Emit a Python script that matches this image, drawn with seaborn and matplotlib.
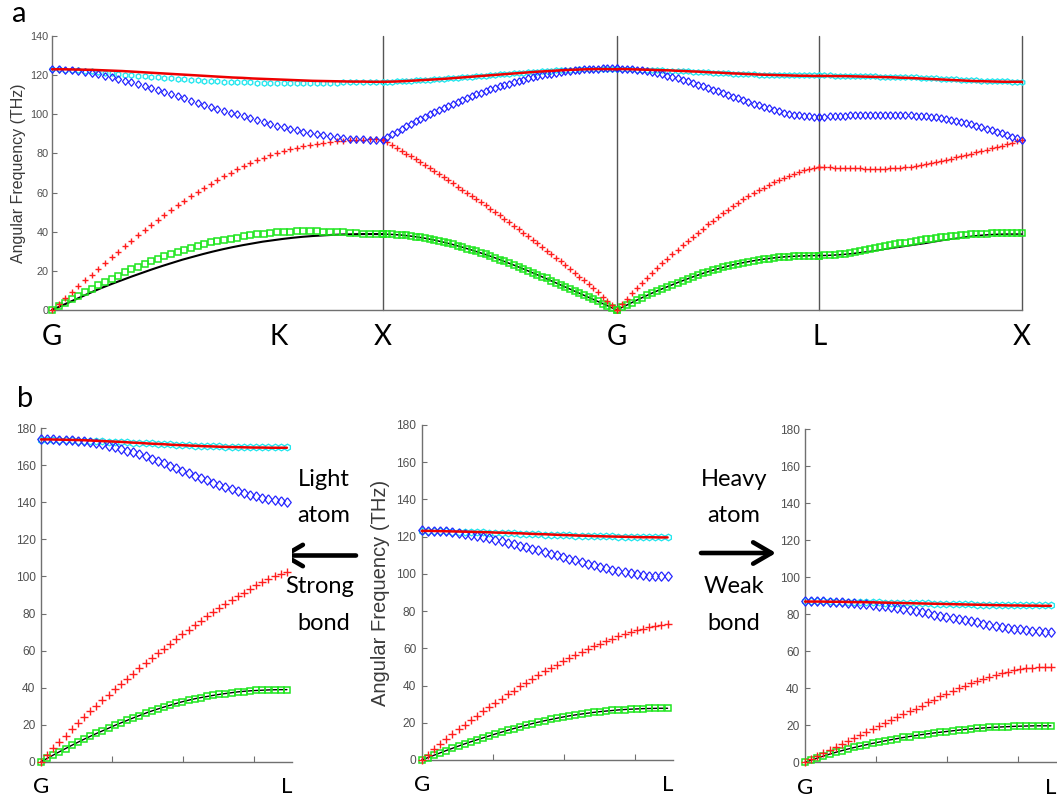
import numpy as np
import matplotlib
matplotlib.use("Agg")
import matplotlib.pyplot as plt
import seaborn as sns

# ---------------------------------------------------------------- data ----
# panel a: path segments G-X (via K), X-G, G-L, L-X (reciprocal-space length)
seg_lengths = [1.414, 1.0, 0.866, 0.866]
k_position = 0.970
top_tick_labels = ["G", "K", "X", "G", "L", "X"]
top_yticks = [0, 20, 40, 60, 80, 100, 120, 140]
bottom_yticks = [0, 20, 40, 60, 80, 100, 120, 140, 160, 180]
bottom_minor_ticks = [0.25, 0.5, 0.75]

# ===== solid-line branches (black = lowest TA, red = highest optical)
GX_black = [0, 2.3, 4.6, 6.9, 9.2, 11.4, 13.4, 15.3, 17.2, 19.0, 20.8, 22.5, 24.1, 25.7, 27.1, 28.5, 29.8,
            31.0, 32.1, 33.1, 34.0, 34.9, 35.6, 36.3, 36.9, 37.4, 37.8, 38.1, 38.4, 38.6, 38.7, 38.8, 38.8, 38.8]
GX_redline = [123.0, 123.0, 122.9, 122.8, 122.7, 122.5, 122.3, 122.1, 121.8, 121.5, 121.2, 120.9, 120.6, 120.3,
              120.0, 119.7, 119.4, 119.1, 118.8, 118.6, 118.3, 118.1, 117.9, 117.7, 117.5, 117.3, 117.1, 117.0,
              116.9, 116.8, 116.7, 116.7, 116.6, 116.6]
XG_black = [38.8, 38.6, 38.2, 37.6, 36.8, 35.8, 34.6, 33.3, 31.8, 30.2, 28.5, 26.7, 24.7, 22.7, 20.6, 18.4,
            16.2, 13.9, 11.6, 9.3, 7.0, 4.7, 2.4, 0.0]
XG_redline = [116.6, 116.7, 116.9, 117.2, 117.5, 117.8, 118.1, 118.5, 118.9, 119.3, 119.7, 120.1, 120.5, 120.9,
              121.3, 121.7, 122.0, 122.3, 122.6, 122.8, 123.0, 123.1, 123.1, 123.0]
GL_black = [0, 1.7, 3.4, 5.1, 6.7, 8.3, 9.8, 11.2, 12.6, 14.0, 15.3, 16.6, 17.8, 19.0, 20.1, 21.1, 22.0, 22.9,
            23.7, 24.4, 25.0, 25.6, 26.1, 26.5, 26.9, 27.2, 27.4, 27.6, 27.7, 27.8, 27.8]
GL_redline = [123.1, 123.1, 123.0, 122.9, 122.8, 122.7, 122.6, 122.5, 122.4, 122.2, 122.1, 121.9, 121.8, 121.6,
              121.4, 121.3, 121.1, 120.9, 120.8, 120.6, 120.5, 120.3, 120.2, 120.1, 120.0, 119.9, 119.8, 119.7,
              119.7, 119.6, 119.6]
LX_black = [27.8, 27.9, 28.1, 28.4, 28.8, 29.3, 29.8, 30.4, 31.0, 31.6, 32.2, 32.8, 33.4, 34.0, 34.7, 35.4,
            36.1, 36.7, 37.3, 37.8, 38.2, 38.5, 38.7, 38.8, 38.8, 38.8]
LX_redline = [119.6, 119.6, 119.5, 119.5, 119.4, 119.3, 119.2, 119.1, 119.0, 118.9, 118.7, 118.6, 118.4, 118.2,
              118.0, 117.8, 117.6, 117.4, 117.2, 117.0, 116.9, 116.8, 116.7, 116.6, 116.6, 116.6]
light_black = [0, 2.4, 4.8, 7.1, 9.4, 11.6, 13.7, 15.7, 17.6, 19.6, 21.4, 23.2, 24.9, 26.6, 28.1, 29.5, 30.8,
               32.1, 33.2, 34.2, 35.0, 35.8, 36.5, 37.1, 37.7, 38.1, 38.4, 38.6, 38.8, 38.9, 38.9]
light_redline = [174.0, 174.0, 173.9, 173.8, 173.7, 173.6, 173.4, 173.2, 173.0, 172.8, 172.6, 172.3, 172.1,
                 171.8, 171.6, 171.4, 171.1, 170.9, 170.7, 170.5, 170.3, 170.2, 170.0, 169.9, 169.8, 169.7,
                 169.6, 169.6, 169.5, 169.5, 169.5]
heavy_black = [0, 1.5, 3.0, 4.4, 5.7, 6.9, 8.0, 9.0, 10.0, 10.9, 11.8, 12.6, 13.4, 14.1, 14.8, 15.4, 16.0,
               16.5, 17.0, 17.5, 17.9, 18.3, 18.6, 18.9, 19.1, 19.3, 19.5, 19.6, 19.7, 19.7, 19.7]
heavy_redline = [86.8, 86.8, 86.8, 86.7, 86.7, 86.6, 86.5, 86.5, 86.4, 86.3, 86.2, 86.1, 86.0, 85.9, 85.8,
                 85.7, 85.6, 85.5, 85.4, 85.3, 85.2, 85.1, 85.0, 84.9, 84.8, 84.7, 84.7, 84.6, 84.6, 84.5, 84.5]

# ===== marker branches: green squares (TA), red plus (LA), blue diamonds (TO), cyan (LO)
# G -> X : 51 k-points
GX_green = [0, 1.9, 3.7, 5.5, 7.3, 9.1, 10.9, 12.6, 14.3, 16.0, 17.6, 19.2, 20.7, 22.2, 23.6, 24.9, 26.2,
            27.4, 28.6, 29.7, 30.8, 31.8, 32.8, 33.7, 34.5, 35.2, 35.8, 36.4, 37.0, 37.6, 38.1, 38.6, 39.0,
            39.4, 39.7, 39.9, 40.1, 40.2, 40.2, 40.2, 40.2, 40.1, 40.0, 39.8, 39.6, 39.4, 39.2, 39.0, 38.9,
            38.8, 38.8]
GX_redplus = [0, 3.0, 6.1, 9.1, 12.1, 15.1, 18.1, 21.0, 24.0, 26.9, 29.8, 32.6, 35.4, 38.1, 40.8, 43.4, 46.0,
              48.5, 51.0, 53.4, 55.8, 58.1, 60.3, 62.5, 64.5, 66.5, 68.3, 70.1, 71.8, 73.4, 74.9, 76.4, 77.7,
              79.0, 80.1, 81.2, 82.1, 83.0, 83.8, 84.4, 85.0, 85.5, 85.9, 86.3, 86.6, 86.8, 87.0, 87.1, 87.2,
              87.2, 87.2]
GX_blue = [123.0, 123.0, 122.8, 122.5, 122.1, 121.7, 121.1, 120.5, 119.8, 119.0, 118.1, 117.2, 116.3, 115.3,
           114.3, 113.3, 112.3, 111.2, 110.2, 109.1, 108.1, 107.0, 106.0, 104.9, 103.9, 102.9, 101.9, 100.9,
           99.9, 98.9, 97.9, 97.0, 96.0, 95.1, 94.2, 93.4, 92.6, 91.8, 91.0, 90.4, 89.7, 89.2, 88.7, 88.3,
           87.9, 87.6, 87.4, 87.2, 87.1, 87.0, 87.0]
GX_cyan = [123.0, 123.0, 122.8, 122.7, 122.5, 122.2, 121.9, 121.6, 121.3, 121.0, 120.7, 120.3, 120.0, 119.7,
           119.4, 119.1, 118.8, 118.6, 118.3, 118.0, 117.8, 117.5, 117.3, 117.1, 117.0, 116.8, 116.7, 116.6,
           116.5, 116.4, 116.3, 116.2, 116.1, 116.1, 116.0, 116.0, 116.0, 116.0, 116.0, 116.0, 116.0, 116.1,
           116.1, 116.2, 116.3, 116.3, 116.4, 116.5, 116.5, 116.6, 116.6]
# X -> G : 51 k-points
XG_green = [38.8, 38.8, 38.7, 38.5, 38.4, 38.1, 37.8, 37.5, 37.1, 36.8, 36.3, 35.8, 35.3, 34.7, 34.1, 33.5,
            32.9, 32.1, 31.4, 30.7, 30.0, 29.2, 28.4, 27.6, 26.7, 25.8, 24.9, 24.0, 23.0, 22.1, 21.1, 20.1,
            19.1, 18.1, 17.1, 16.1, 15.0, 14.0, 12.9, 11.8, 10.8, 9.7, 8.7, 7.6, 6.5, 5.5, 4.4, 3.3, 2.2, 1.1, 0.0]
XG_redplus = [87.0, 85.6, 84.2, 82.8, 81.4, 79.9, 78.5, 77.0, 75.5, 74.0, 72.5, 71.0, 69.4, 67.9, 66.3, 64.7,
              63.1, 61.5, 59.9, 58.3, 56.7, 55.0, 53.4, 51.7, 50.0, 48.3, 46.6, 44.8, 43.1, 41.3, 39.5, 37.7,
              35.9, 34.1, 32.2, 30.4, 28.6, 26.7, 24.8, 22.9, 20.9, 19.0, 17.0, 15.1, 13.1, 11.1, 9.0, 6.8, 4.6,
              2.3, 0.0]
XG_blue = [87.0, 88.4, 89.8, 91.1, 92.5, 93.8, 95.1, 96.4, 97.6, 98.8, 100.0, 101.1, 102.2, 103.4, 104.4, 105.5,
           106.5, 107.5, 108.4, 109.3, 110.2, 111.1, 111.9, 112.7, 113.6, 114.3, 115.0, 115.7, 116.4, 117.1,
           117.7, 118.3, 118.9, 119.4, 119.9, 120.4, 120.8, 121.2, 121.6, 121.9, 122.2, 122.5, 122.7, 122.9,
           123.1, 123.2, 123.3, 123.4, 123.4, 123.4, 123.4]
XG_cyan = [116.6, 116.6, 116.7, 116.8, 116.9, 117.0, 117.1, 117.3, 117.4, 117.5, 117.7, 117.8, 118.0, 118.2,
           118.4, 118.5, 118.7, 118.9, 119.1, 119.3, 119.5, 119.6, 119.8, 120.0, 120.2, 120.4, 120.6, 120.8,
           121.0, 121.1, 121.3, 121.5, 121.7, 121.8, 122.0, 122.1, 122.3, 122.4, 122.5, 122.6, 122.7, 122.8,
           122.9, 122.9, 123.0, 123.0, 123.0, 123.0, 123.0, 123.0, 123.0]
# G -> L : 41 k-points (also the reference material in panel b, middle)
GL_green = [0, 1.3, 2.6, 3.8, 5.1, 6.3, 7.5, 8.7, 9.8, 10.9, 11.9, 13.0, 14.0, 15.0, 16.0, 16.9, 17.8, 18.7,
            19.6, 20.4, 21.1, 21.8, 22.5, 23.1, 23.7, 24.2, 24.7, 25.2, 25.6, 26.0, 26.3, 26.6, 26.9, 27.1,
            27.3, 27.5, 27.6, 27.7, 27.8, 27.8, 27.8]
GL_redplus = [0, 2.9, 5.8, 8.6, 11.3, 13.9, 16.5, 19.0, 21.4, 23.8, 26.2, 28.5, 30.7, 33.0, 35.2, 37.3, 39.5,
              41.6, 43.7, 45.7, 47.6, 49.5, 51.3, 53.1, 54.8, 56.5, 58.1, 59.6, 61.1, 62.5, 63.9, 65.2, 66.5,
              67.6, 68.7, 69.7, 70.6, 71.4, 72.0, 72.5, 72.9]
GL_blue = [123.4, 123.3, 123.2, 123.0, 122.8, 122.4, 122.0, 121.5, 121.0, 120.4, 119.8, 119.1, 118.4, 117.6,
           116.8, 116.0, 115.2, 114.4, 113.5, 112.6, 111.7, 110.8, 109.9, 109.0, 108.1, 107.2, 106.3, 105.4,
           104.6, 103.8, 103.0, 102.2, 101.5, 100.9, 100.3, 99.8, 99.4, 99.1, 98.9, 98.8, 98.7]
GL_cyan = [123.0, 123.0, 122.9, 122.9, 122.8, 122.7, 122.6, 122.6, 122.5, 122.4, 122.3, 122.2, 122.2, 122.0,
           121.9, 121.8, 121.6, 121.5, 121.4, 121.3, 121.1, 121.0, 120.9, 120.8, 120.7, 120.6, 120.5, 120.4,
           120.3, 120.2, 120.2, 120.1, 120.0, 120.0, 119.9, 119.9, 119.9, 119.9, 119.9, 119.9, 119.9]
# L -> X : 41 k-points
LX_green = [27.8, 27.9, 28.1, 28.3, 28.5, 28.8, 29.1, 29.6, 30.0, 30.5, 31.0, 31.5, 32.0, 32.5, 33.0, 33.5,
            34.0, 34.4, 34.9, 35.3, 35.7, 36.1, 36.5, 36.8, 37.1, 37.4, 37.7, 37.9, 38.2, 38.4, 38.6, 38.8,
            38.9, 39.0, 39.1, 39.2, 39.2, 39.2, 39.2, 39.2, 39.2]
LX_redplus = [73.0, 72.9, 72.9, 72.8, 72.7, 72.6, 72.5, 72.4, 72.3, 72.2, 72.2, 72.2, 72.2, 72.2, 72.3, 72.5,
              72.7, 73.0, 73.3, 73.6, 74.0, 74.5, 75.0, 75.5, 76.1, 76.7, 77.3, 78.0, 78.6, 79.2, 79.9, 80.6,
              81.3, 82.0, 82.7, 83.4, 84.0, 84.7, 85.5, 86.2, 87.0]
LX_blue = [98.7, 98.8, 98.9, 99.0, 99.1, 99.2, 99.4, 99.5, 99.5, 99.6, 99.6, 99.7, 99.7, 99.7, 99.7, 99.7, 99.6,
           99.5, 99.4, 99.3, 99.1, 98.9, 98.7, 98.4, 98.1, 97.7, 97.2, 96.7, 96.1, 95.5, 94.8, 94.1, 93.3,
           92.6, 91.8, 91.0, 90.3, 89.5, 88.6, 87.8, 87.0]
LX_cyan = [119.9, 119.9, 119.9, 119.8, 119.8, 119.8, 119.7, 119.6, 119.6, 119.5, 119.5, 119.4, 119.3, 119.3,
           119.2, 119.1, 119.1, 119.0, 118.9, 118.8, 118.7, 118.6, 118.5, 118.3, 118.2, 118.1, 118.0, 117.8,
           117.7, 117.6, 117.4, 117.3, 117.2, 117.1, 117.0, 116.9, 116.8, 116.8, 116.7, 116.7, 116.7]
# panel b, left (light atom / strong bond), G -> L : 41 k-points
light_green = [0, 1.8, 3.6, 5.3, 7.1, 8.8, 10.5, 12.2, 13.7, 15.3, 16.7, 18.2, 19.6, 21.0, 22.4, 23.7, 24.9,
               26.2, 27.4, 28.6, 29.5, 30.5, 31.5, 32.3, 33.2, 33.9, 34.6, 35.3, 35.8, 36.4, 36.8, 37.2, 37.7,
               37.9, 38.2, 38.5, 38.6, 38.8, 38.9, 38.9, 38.9]
light_redplus = [0, 3.6, 7.2, 10.7, 14.1, 17.5, 20.8, 24.1, 27.2, 30.2, 33.2, 36.2, 39.1, 41.9, 44.8, 47.6,
                 50.4, 53.1, 55.8, 58.5, 61.1, 63.7, 66.2, 68.7, 71.2, 73.6, 76.0, 78.4, 80.7, 83.0, 85.2,
                 87.3, 89.3, 91.3, 93.3, 95.2, 97.0, 98.7, 100.2, 101.5, 102.6]
light_blue = [174.0, 174.0, 174.0, 173.9, 173.7, 173.5, 173.2, 172.9, 172.4, 171.9, 171.3, 170.6, 169.8, 168.9,
              168.0, 167.0, 165.9, 164.8, 163.6, 162.4, 161.1, 159.8, 158.5, 157.2, 155.8, 154.5, 153.2, 151.9,
              150.6, 149.4, 148.2, 147.1, 146.0, 145.0, 144.1, 143.3, 142.5, 141.8, 141.3, 140.8, 140.4]
light_cyan = [173.8, 173.8, 173.8, 173.7, 173.6, 173.5, 173.4, 173.3, 173.3, 173.1, 173.0, 172.8, 172.7, 172.5,
              172.4, 172.2, 172.1, 171.9, 171.8, 171.6, 171.5, 171.3, 171.2, 171.0, 170.9, 170.7, 170.6, 170.5,
              170.4, 170.2, 170.1, 170.0, 170.0, 169.9, 169.8, 169.8, 169.7, 169.7, 169.7, 169.7, 169.7]
# panel b, right (heavy atom / weak bond), G -> L : 41 k-points
heavy_green = [0, 1.1, 2.3, 3.4, 4.4, 5.4, 6.3, 7.2, 8.0, 8.8, 9.5, 10.2, 10.9, 11.6, 12.2, 12.8, 13.4, 13.9,
               14.5, 15.0, 15.4, 15.9, 16.3, 16.6, 17.0, 17.4, 17.7, 18.0, 18.3, 18.5, 18.8, 19.0, 19.1, 19.3,
               19.4, 19.5, 19.6, 19.7, 19.7, 19.7, 19.7]
heavy_redplus = [0, 1.7, 3.3, 5.0, 6.6, 8.3, 9.9, 11.6, 13.2, 14.9, 16.5, 18.1, 19.6, 21.2, 22.8, 24.3, 25.9,
                 27.5, 29.0, 30.6, 32.3, 33.9, 35.6, 37.1, 38.6, 40.0, 41.4, 42.7, 44.0, 45.2, 46.2, 47.2, 48.1,
                 48.9, 49.6, 50.2, 50.7, 51.0, 51.2, 51.4, 51.5]
heavy_blue = [87.0, 87.0, 87.0, 86.9, 86.8, 86.7, 86.5, 86.2, 86.0, 85.7, 85.4, 85.0, 84.6, 84.2, 83.7, 83.2,
              82.7, 82.2, 81.6, 81.0, 80.4, 79.8, 79.2, 78.6, 78.0, 77.3, 76.7, 76.1, 75.5, 74.9, 74.3, 73.7,
              73.2, 72.7, 72.2, 71.8, 71.4, 71.0, 70.7, 70.5, 70.4]
heavy_cyan = [87.0, 87.0, 87.0, 86.9, 86.9, 86.8, 86.8, 86.7, 86.7, 86.6, 86.5, 86.5, 86.4, 86.3, 86.2, 86.2,
              86.1, 86.0, 85.9, 85.9, 85.8, 85.7, 85.6, 85.6, 85.5, 85.4, 85.4, 85.3, 85.2, 85.2, 85.1, 85.0,
              85.0, 84.9, 84.9, 84.9, 84.8, 84.8, 84.8, 84.8, 84.8]

# ------------------------------------------------------------- styling ----
sns.set_style("white")
plt.rcParams["font.family"] = ["Liberation Sans", "DejaVu Sans"]
LABEL_FONT = ["Lato", "DejaVu Sans"]
GRAY = "#707070"
TICK_TXT = "#505050"
C_GREEN, C_RED, C_BLUE, C_CYAN = "#1ee61e", "#ff1e1e", "#2828ff", "#22e6ee"

W, H = 1057, 801
fig = plt.figure(figsize=(W / 100, H / 100), dpi=100)


def px_axes(left, top, right, bottom):
    return fig.add_axes([left / W, 1 - bottom / H, (right - left) / W, (bottom - top) / H])


DIAMOND = [(0, 1.25), (1, 0), (0, -1.25), (-1, 0), (0, 1.25)]


def draw_lines(ax, x, black, redline, black_lw):
    common = dict(estimator=None, sort=False, ax=ax, clip_on=False, legend=False)
    sns.lineplot(x=x, y=black, color="black", linewidth=black_lw, zorder=3, **common)
    sns.lineplot(x=x, y=redline, color="#ee0000", linewidth=1.8, zorder=7, **common)


def draw_markers(ax, x, green, redplus, blue, cyan, big):
    f = 1.25 if big else 1.0
    common = dict(estimator=None, sort=False, ax=ax, clip_on=False, legend=False, linestyle="")
    sns.lineplot(x=x, y=green, color=C_GREEN, marker="s", markersize=3.7 * f, markerfacecolor="none",
                 markeredgecolor=C_GREEN, markeredgewidth=1.1, zorder=4, **common)
    sns.lineplot(x=x, y=redplus, color=C_RED, marker="+", markersize=4.8 * f, markeredgecolor=C_RED,
                 markeredgewidth=1.0, zorder=5, **common)
    sns.lineplot(x=x, y=cyan, color=C_CYAN, marker="h", markersize=3.8 * f, markerfacecolor="none",
                 markeredgecolor=C_CYAN, markeredgewidth=0.95, zorder=5, **common)
    sns.lineplot(x=x, y=blue, color=C_BLUE, marker=DIAMOND, markersize=5.4 * f, markerfacecolor="none",
                 markeredgecolor=C_BLUE, markeredgewidth=0.9, zorder=6, **common)


def base_style(ax, yticks, tick_fs, pad):
    ax.set_ylim(yticks[0], yticks[-1])
    ax.set_yticks(yticks)
    for s in ("top", "right"):
        ax.spines[s].set_visible(False)
    for s in ("left", "bottom"):
        ax.spines[s].set_color(GRAY)
        ax.spines[s].set_linewidth(1.0)
    ax.tick_params(axis="y", left=True, direction="in", length=3.5, width=0.8, color=GRAY,
                   labelcolor=TICK_TXT, labelsize=tick_fs, pad=pad)
    ax.set_xlabel("")
    ax.set_ylabel("")


# ------------------------------------------------------------- panel a ----
ax_a = px_axes(52, 36, 1022, 310)
bounds = np.concatenate([[0.0], np.cumsum(seg_lengths)])
line_segments = [(GX_black, GX_redline), (XG_black, XG_redline), (GL_black, GL_redline), (LX_black, LX_redline)]
marker_segments = [(GX_green, GX_redplus, GX_blue, GX_cyan), (XG_green, XG_redplus, XG_blue, XG_cyan),
                   (GL_green, GL_redplus, GL_blue, GL_cyan), (LX_green, LX_redplus, LX_blue, LX_cyan)]
for i in range(4):
    blk, red = line_segments[i]
    draw_lines(ax_a, np.linspace(bounds[i], bounds[i + 1], len(blk)), blk, red, 1.5 if i == 0 else 1.1)
    g, rp, b, c = marker_segments[i]
    draw_markers(ax_a, np.linspace(bounds[i], bounds[i + 1], len(g)), g, rp, b, c, big=False)

for xv in bounds[1:]:
    ax_a.axvline(xv, color="#555555", linewidth=1.0, zorder=1, clip_on=False)
ax_a.set_xlim(0, bounds[-1])
base_style(ax_a, top_yticks, 7.8, 2.5)
top_tick_pos = [bounds[0], k_position, bounds[1], bounds[2], bounds[3], bounds[4]]
ax_a.set_xticks(top_tick_pos)
ax_a.set_xticklabels(top_tick_labels)
ax_a.tick_params(axis="x", bottom=True, length=0, pad=10, labelsize=20, labelcolor="black")
for lbl in ax_a.get_xticklabels():
    lbl.set_fontfamily(LABEL_FONT)
ax_a.set_ylabel("Angular Frequency (THz)", fontsize=11.5, color="#3a3a3a")
ax_a.yaxis.set_label_coords(-0.027, 0.5)

# ------------------------------------------------------------- panel b ----
gl_len = seg_lengths[2]
panels_b = [
    ((41, 428.3, 292, 761.7), (light_black, light_redline), (light_green, light_redplus, light_blue, light_cyan)),
    ((421.7, 425, 672.7, 760), (GL_black, GL_redline), (GL_green, GL_redplus, GL_blue, GL_cyan)),
    ((805, 429, 1056, 762.3), (heavy_black, heavy_redline), (heavy_green, heavy_redplus, heavy_blue, heavy_cyan)),
]
axes_b = []
for rect, lines, marks in panels_b:
    ax = px_axes(*rect)
    draw_lines(ax, np.linspace(0, gl_len, len(lines[0])), *lines, 1.0)
    draw_markers(ax, np.linspace(0, gl_len, len(marks[0])), *marks, big=True)
    ax.set_xlim(0, 0.884)
    base_style(ax, bottom_yticks, 8.6, 4.0)
    ax.set_xticks([0, gl_len])
    ax.set_xticklabels(["G", "L"])
    ax.set_xticks(bottom_minor_ticks, minor=True)
    ax.tick_params(axis="x", which="major", bottom=True, length=0, pad=11, labelsize=16, labelcolor="black")
    ax.tick_params(axis="x", which="minor", bottom=True, direction="in", length=4, width=0.8, color=GRAY)
    for lbl in ax.get_xticklabels():
        lbl.set_fontfamily(LABEL_FONT)
    axes_b.append(ax)

axes_b[1].set_ylabel("Angular Frequency (THz)", fontsize=14.5, color="#3a3a3a")
axes_b[1].yaxis.set_label_coords(-0.126, 0.5)


# ----------------------------------------------------------- annotations --
def ftext(xp, yp, s, size):
    fig.text(xp / W, 1 - yp / H, s, fontsize=size, family=LABEL_FONT, color="black",
             ha="center", va="baseline")


ftext(324, 486, "Light", 17)
ftext(324, 521.5, "atom", 17)
ftext(320, 593, "Strong", 17)
ftext(324, 629.5, "bond", 17)
ftext(734, 486, "Heavy", 17)
ftext(734, 521.5, "atom", 17)
ftext(734, 593, "Weak", 17)
ftext(734, 629.5, "bond", 17)

arrow_kw = dict(arrowstyle="->,head_length=0.6,head_width=0.35", lw=3.3, color="black",
                mutation_scale=22, shrinkA=0, shrinkB=0)
ax_a.annotate("", xy=(280, H - 555.5), xytext=(356, H - 555.5), xycoords="figure pixels",
              textcoords="figure pixels", arrowprops=arrow_kw, annotation_clip=False)
ax_a.annotate("", xy=(776, H - 553), xytext=(701, H - 553), xycoords="figure pixels",
              textcoords="figure pixels", arrowprops=arrow_kw, annotation_clip=False)

fig.text(12 / W, 1 - 22 / H, "a", fontsize=21, family=LABEL_FONT, color="black", ha="left", va="baseline")
fig.text(17 / W, 1 - 407 / H, "b", fontsize=21, family=LABEL_FONT, color="black", ha="left", va="baseline")

fig.savefig("out.png", dpi=100)
